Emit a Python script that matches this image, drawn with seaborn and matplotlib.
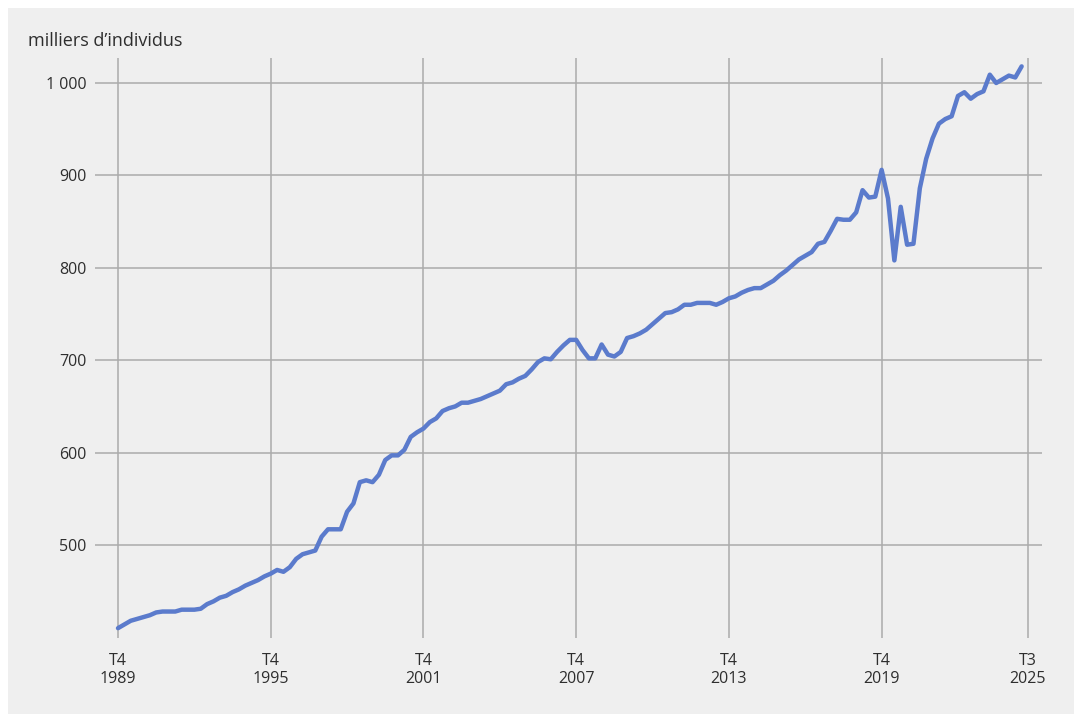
import numpy as np
import pandas as pd
import matplotlib
matplotlib.use("Agg")
import matplotlib.pyplot as plt
from matplotlib.patches import Rectangle
import seaborn as sns

# =========================
# DATA (quarterly, T4 1989 -> T2 2025)
# =========================

start_quarter = "1989Q4"

effectifs = [
    410, 414, 418, 420, 422, 424, 427, 428, 428, 428,
    430, 430, 430, 431, 436, 439, 443, 445, 449, 452,
    456, 459, 462, 466, 469, 473, 471, 476, 485, 490,
    492, 494, 509, 517, 517, 517, 536, 545, 568, 570,
    568, 576, 592, 597, 597, 603, 617, 622, 626, 633,
    637, 645, 648, 650, 654, 654, 656, 658, 661, 664,
    667, 674, 676, 680, 683, 690, 698, 702, 701, 709,
    716, 722, 722, 711, 702, 702, 717, 706, 704, 709,
    724, 726, 729, 733, 739, 745, 751, 752, 755, 760,
    760, 762, 762, 762, 760, 763, 767, 769, 773, 776,
    778, 778, 782, 786, 792, 797, 803, 809, 813, 817,
    826, 828, 840, 853, 852, 852, 860, 884, 876, 877,
    906, 875, 808, 866, 825, 826, 886, 918, 940, 956,
    961, 964, 986, 990, 983, 988, 991, 1009, 1000, 1004,
    1008, 1006, 1018,
]

tick_quarters = ["1989Q4", "1995Q4", "2001Q4", "2007Q4", "2013Q4", "2019Q4", "2025Q3"]
tick_labels = ["T4\n1989", "T4\n1995", "T4\n2001", "T4\n2007", "T4\n2013", "T4\n2019", "T3\n2025"]

y_ticks = [500, 600, 700, 800, 900, 1000]
y_labels = ["500", "600", "700", "800", "900", "1 000"]

# =========================
# FRAME
# =========================

periods = pd.period_range(start=start_quarter, periods=len(effectifs), freq="Q")
p0 = pd.Period(start_quarter, freq="Q")
df = pd.DataFrame({
    "q": [(p - p0).n for p in periods],
    "effectifs": effectifs,
})
tick_pos = [(pd.Period(t, freq="Q") - p0).n for t in tick_quarters]

# =========================
# STYLE
# =========================

bg = "#efefef"
grid_col = "#ababab"
text_col = "#2e2e2e"
line_col = "#5b7bcc"

sns.set_theme(style="whitegrid")
plt.rcParams["font.family"] = ["Open Sans", "DejaVu Sans"]

W, H = 1079, 714
fig = plt.figure(figsize=(W / 100, H / 100), dpi=100)
fig.patch.set_facecolor("white")
fig.patches.append(Rectangle(
    (8 / W, 0), (W - 13) / W, (H - 8) / H,
    transform=fig.transFigure, facecolor=bg, edgecolor="none", zorder=-10
))

left, right, top, bottom = 95, 1042, 58, 638
ax = fig.add_axes([left / W, 1 - bottom / H, (right - left) / W, (bottom - top) / H])
ax.set_facecolor(bg)

# =========================
# PLOT
# =========================

sns.lineplot(
    data=df,
    x="q",
    y="effectifs",
    color=line_col,
    linewidth=3.2,
    ax=ax,
    zorder=3
)

px_per_q = (1028 - 118) / 143
ax.set_xlim((left - 118) / px_per_q, (right - 118) / px_per_q)
px_per_unit = (545 - 83) / 500
ax.set_ylim(1000 - (bottom - 83) / px_per_unit, 1000 + (83 - top) / px_per_unit)

ax.set_xticks(tick_pos)
ax.set_xticklabels(tick_labels, fontsize=11.5, color=text_col, linespacing=1.15)
ax.set_yticks(y_ticks)
ax.set_yticklabels(y_labels, fontsize=11.5, color=text_col)

ax.grid(True, color=grid_col, linewidth=1.1)
ax.tick_params(axis="x", length=0, pad=11)
ax.tick_params(axis="y", length=0, pad=6)

for s in ax.spines.values():
    s.set_visible(False)

ax.set_xlabel("")
ax.set_ylabel("")

fig.text(28 / W, 1 - 41 / H, "milliers d\u2019individus",
         fontsize=13, color=text_col, ha="left", va="center")

fig.savefig("out.png", dpi=100, facecolor=fig.get_facecolor())
